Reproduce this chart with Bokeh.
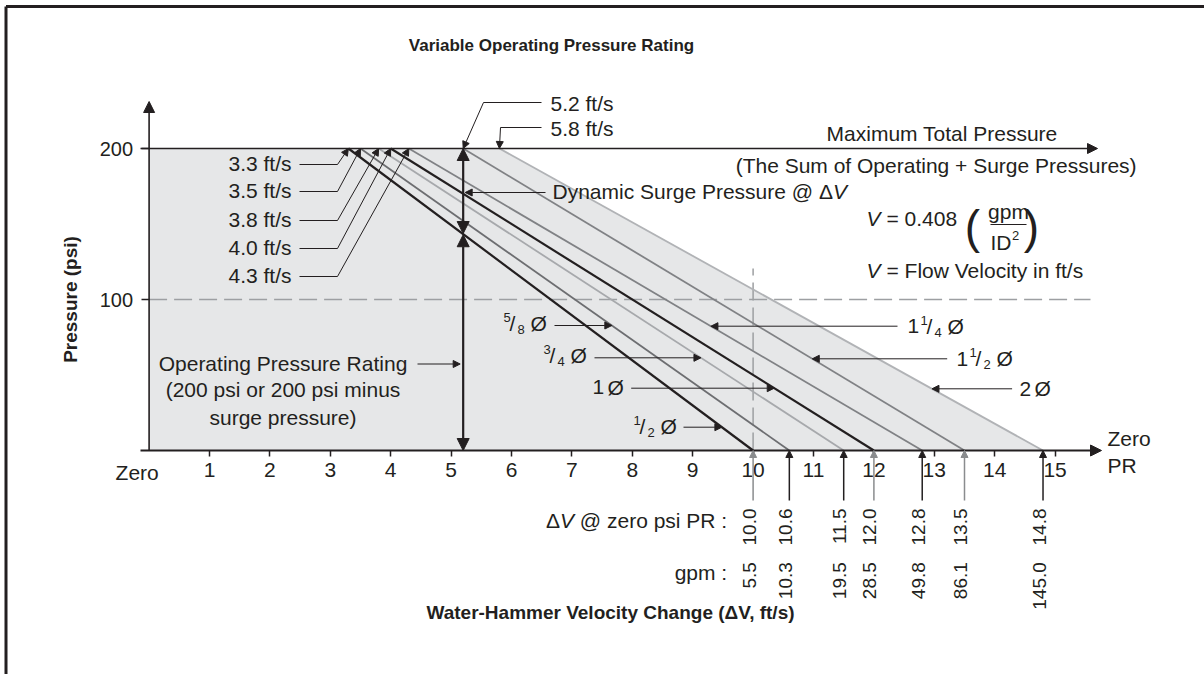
from math import pi
from bokeh.plotting import figure
from bokeh.models import Range1d, LinearAxis, FixedTicker, Arrow, NormalHead
from bokeh.core.properties import value
from bokeh.embed import file_html
from bokeh.resources import INLINE

# ---------------- data ----------------
pipe_whole = ["", "", "", "1", "1", "1", "2"]
pipe_num = ["1", "5", "3", "", "1", "1", ""]
pipe_den = ["2", "8", "4", "", "4", "2", ""]
v_at_max = [3.3, 3.5, 3.8, 4.0, 4.3, 5.2, 5.8]            # ft/s where each line meets 200 psi
dv_at_zero = [10.0, 10.6, 11.5, 12.0, 12.8, 13.5, 14.8]   # ΔV at zero psi PR
gpm = [5.5, 10.3, 19.5, 28.5, 49.8, 86.1, 145.0]
x_ticks = list(range(1, 16))
y_ticks = [100, 200]
max_pressure = 200
ref_velocity = 10.0
ref_pressure = 100

# ---------------- layout / style ----------------
FONT = "Liberation Sans"
INK = "#231f20"
W, H, M = 1204, 674, 0
X0, SX = 148.6, 60.4
Y0, SY = 450.0, 1.51


def dx(px):
    return (px - X0) / SX


def dy(py):
    return (Y0 - py) / SY


line_colors = [INK, "#6d6e71", "#a7a9ac", INK, "#808285", "#808285", "#b1b3b6"]
line_widths = [2.2, 1.8, 1.8, 2.2, 1.8, 1.8, 1.8]
drop_colors = ["#8a8c8e", INK, INK, "#8a8c8e", INK, "#8a8c8e", INK]

p = figure(width=W, height=H,
           x_range=Range1d(dx(M), dx(M + W)), y_range=Range1d(dy(M + H), dy(M)),
           output_backend="svg", toolbar_location=None,
           x_axis_type=None, y_axis_type=None, min_border=0,
           outline_line_color=None, background_fill_color="white",
           border_fill_color="white")


def y_on(i, x):
    return max_pressure * (dv_at_zero[i] - x) / (dv_at_zero[i] - v_at_max[i])


def x_on(i, y):
    return dv_at_zero[i] - y / max_pressure * (dv_at_zero[i] - v_at_max[i])


def T(xp, yp, s, size=21, align="left", style="normal", color=INK):
    p.text(x=[dx(xp)], y=[dy(yp)], text=[s], text_font=value(FONT),
           text_font_size=f"{size}px", text_align=align, text_baseline="middle",
           text_font_style=style, text_color=color)


def A(x0, y0, x1, y1, color=INK, width=1.0, head=7, start_head=None):
    kw = dict(end=NormalHead(size=head, fill_color=color, line_color=color, line_width=1),
              x_start=x0, y_start=y0, x_end=x1, y_end=y1,
              line_color=color, line_width=width)
    if start_head:
        kw["start"] = NormalHead(size=start_head, fill_color=color, line_color=color, line_width=1)
    p.add_layout(Arrow(**kw))


# frame border (top and left)
p.segment(x0=[dx(5.5), dx(5.5)], y0=[dy(6), dy(6)], x1=[dx(M + W), dx(5.5)],
          y1=[dy(6), dy(M + H)], line_color=INK, line_width=3)

# shaded operating region
p.patch([0, 0, v_at_max[-1], dv_at_zero[-1]], [0, max_pressure, max_pressure, 0],
        fill_color="#e6e7e8", line_color=None)

# dashed reference lines
p.segment(x0=[0], y0=[ref_pressure], x1=[dx(1090)], y1=[ref_pressure],
          line_color="#9d9fa2", line_width=1.5, line_dash="18 7")
p.segment(x0=[ref_velocity], y0=[0], x1=[ref_velocity], y1=[dy(268)],
          line_color="#9d9fa2", line_width=1.5, line_dash="18 7")

# pipe-size lines
p.segment(x0=v_at_max, y0=[max_pressure] * 7, x1=dv_at_zero, y1=[0] * 7,
          line_color=line_colors, line_width=line_widths)

# axes lines with arrows
A(dx(140), 0, dx(1101), 0, width=2, head=11)
A(0, 0, 0, dy(101), width=1.6, head=11)
A(dx(140), max_pressure, dx(1097), max_pressure, width=1.5, head=10)

xax = LinearAxis(fixed_location=0, ticker=FixedTicker(ticks=x_ticks),
                 bounds=(dx(120), dx(1100)), axis_line_color=None,
                 major_tick_in=0, major_tick_out=6, major_tick_line_color=INK,
                 major_tick_line_width=1.5, minor_tick_line_color=None,
                 major_label_text_font=FONT, major_label_text_font_size="21px",
                 major_label_text_color=INK, major_label_standoff=6,
                 axis_label="Water-Hammer Velocity Change (ΔV, ft/s)",
                 axis_label_text_font=FONT, axis_label_text_font_size="19px",
                 axis_label_text_font_style="bold", axis_label_text_color=INK,
                 axis_label_standoff=122)
p.add_layout(xax, "below")

yax = LinearAxis(fixed_location=0, ticker=FixedTicker(ticks=y_ticks),
                 bounds=(0, max_pressure), axis_line_color=None,
                 major_tick_in=0, major_tick_out=8, major_tick_line_color=INK,
                 major_tick_line_width=1.5, minor_tick_line_color=None,
                 major_label_text_font=FONT, major_label_text_font_size="20px",
                 major_label_text_color=INK, major_label_standoff=8,
                 axis_label="Pressure (psi)",
                 axis_label_text_font=FONT, axis_label_text_font_size="19px",
                 axis_label_text_font_style="bold", axis_label_text_color=INK,
                 axis_label_standoff=16)
p.add_layout(yax, "left")

T(136.7, 472, "Zero", align="center")
T(1107, 438, "Zero")
T(1107, 465, "PR")

# title
T(551, 45, "Variable Operating Pressure Rating", size=17, align="center", style="bold")

# maximum total pressure
T(941.6, 133, "Maximum Total Pressure", align="center")
T(935.6, 165, "(The Sum of Operating + Surge Pressures)", align="center")

# velocity labels at 200 psi
left_label_y = [163, 190, 219, 247, 275]
for i in range(5):
    yp = left_label_y[i]
    T(291, yp, f"{v_at_max[i]:.1f} ft/s", align="right")
    p.segment(x0=[dx(299)], y0=[dy(yp + 1)], x1=[dx(337)], y1=[dy(yp + 1)],
              line_color=INK, line_width=1)
    A(dx(337), dy(yp + 1), v_at_max[i], max_pressure, head=7)

right_label_y = [103, 128]
right_corner_x = [483, 500]
for k, i in enumerate([5, 6]):
    yp = right_label_y[k]
    T(550, yp, f"{v_at_max[i]:.1f} ft/s")
    p.segment(x0=[dx(541)], y0=[dy(yp - 1)], x1=[dx(right_corner_x[k])], y1=[dy(yp - 1)],
              line_color=INK, line_width=1)
    A(dx(right_corner_x[k]), dy(yp - 1), v_at_max[i], max_pressure, head=7)

# surge / operating pressure double arrows at 5.2 ft/s
xs = v_at_max[5]
surge_y = y_on(0, xs)
A(xs, surge_y + 0.4, xs, max_pressure, width=2.2, head=12, start_head=12)
A(xs, surge_y - 0.4, xs, 0, width=2.2, head=12, start_head=12)

T(552, 191, "Dynamic Surge Pressure @ Δ")
T(832.4, 191, "V", style="italic")
A(dx(545), dy(192), xs + 2 / SX, dy(192), head=7)

for k, s in enumerate(["Operating Pressure Rating",
                       f"({max_pressure} psi or {max_pressure} psi minus",
                       "surge pressure)"]):
    T(282.5, [363.3, 389.3, 416.7][k], s, align="center")
A(dx(417), dy(363.5), xs - 3 / SX, dy(363.5), head=7)

# formula
T(866, 218, "V", style="italic")
T(886, 218, "= 0.408")
T(972, 226, "(", size=46, align="center")
T(1031, 226, ")", size=46, align="center")
T(1008, 211, "gpm", align="center")
p.segment(x0=[dx(990)], y0=[dy(224)], x1=[dx(1026)], y1=[dy(224)], line_color=INK, line_width=1.2)
T(1011, 242, "ID", align="right")
T(1011.5, 235, "2", size=13)
T(866, 270, "V", style="italic")
T(886, 270, "= Flow Velocity in ft/s")


# pipe size labels
def pipe_label(left, yp, i):
    cur = left
    if pipe_whole[i]:
        T(cur, yp, pipe_whole[i])
        cur += 12
        if pipe_num[i]:
            cur += 1
    if pipe_num[i]:
        T(cur, yp - 6, pipe_num[i], size=13)
        T(cur + 6, yp, "/")
        T(cur + 14, yp + 6, pipe_den[i], size=13)
        cur += 23
    cur += 4 if pipe_num[i] else 3
    T(cur, yp, "Ø")


# left-side labels: (index, label left px, label y px, arrow start px, arrow y px)
left_pipe = [(1, 503, 323, 554, 325), (2, 543, 355, 594, 357.3),
             (3, 592, 386.7, 630.7, 387.7), (0, 633, 426, 683, 426.7)]
for i, lx, ly, ax, ay in left_pipe:
    pipe_label(lx, ly, i)
    A(dx(ax), dy(ay), x_on(i, dy(ay)), dy(ay), head=7)

right_pipe = [(4, 907, 325.7, 897, 325.7), (5, 956, 358.3, 946.7, 358.3),
              (6, 1019, 388.3, 1011.6, 388.3)]
for i, lx, ly, ax, ay in right_pipe:
    pipe_label(lx, ly, i)
    A(dx(ax), dy(ay), x_on(i, dy(ay)), dy(ay), head=7)

# drop arrows below the axis and value tables
for i in range(7):
    A(dv_at_zero[i], dy(500), dv_at_zero[i], 0, color=drop_colors[i], width=1.5, head=7)

p.text(x=[v - 4 / SX for v in dv_at_zero], y=[dy(508)] * 7,
       text=[f"{v:.1f}" for v in dv_at_zero], angle=pi / 2,
       text_font=value(FONT), text_font_size="19px", text_align="right",
       text_baseline="middle", text_color=INK)
p.text(x=[v - 4 / SX for v in dv_at_zero], y=[dy(561.7)] * 7,
       text=[f"{g:.1f}" for g in gpm], angle=pi / 2,
       text_font=value(FONT), text_font_size="19px", text_align="right",
       text_baseline="middle", text_color=INK)

T(726.7, 520, "@ zero psi PR :", align="right")
T(573.5, 520, "V", align="right", style="italic")
T(559.5, 520, "Δ", align="right")
T(726.7, 571.7, "gpm :", align="right")

open("out.html", "w").write(file_html(p, INLINE))
